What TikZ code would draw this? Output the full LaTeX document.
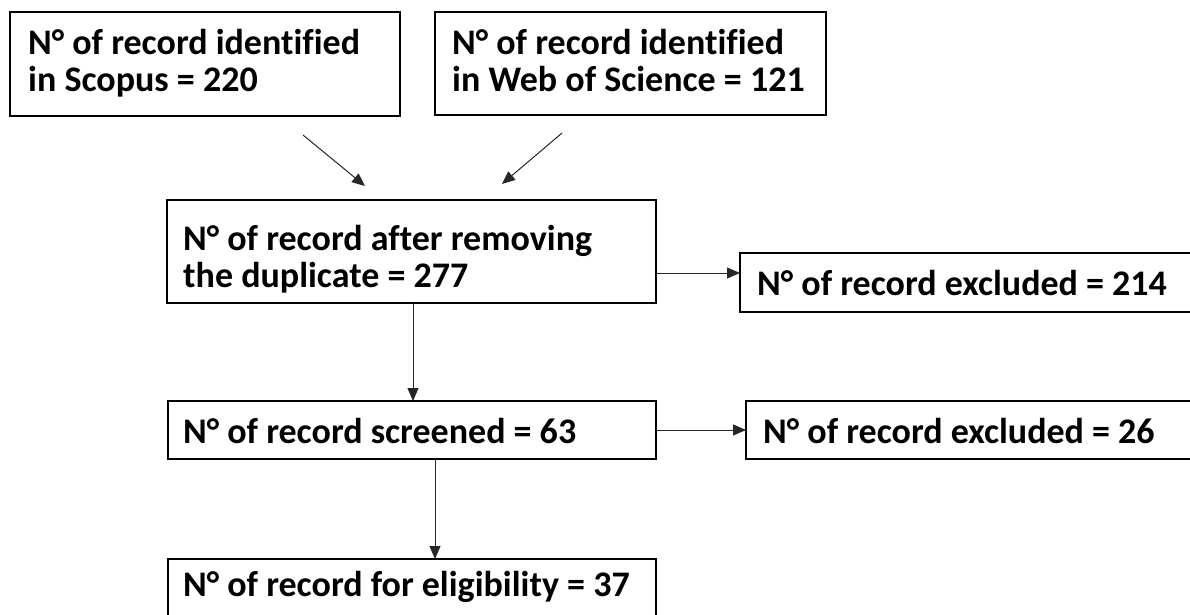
\documentclass[tikz,border=0pt]{standalone}
\usepackage{fontspec}
\setmainfont[Ligatures=NoCommon]{Carlito}
\usetikzlibrary{arrows.meta}
\begin{document}
\begin{tikzpicture}[x=1pt,y=-1pt,
  box/.style={draw=black, line width=1.5pt, rectangle, inner sep=0pt, outer sep=0pt, anchor=north west},
  txt/.style={font=\fontsize{36}{37}\selectfont\bfseries, inner sep=0pt, anchor=base west, align=left},
  arr/.style={draw=black!85, line width=1pt, -{Triangle[length=13pt,width=11pt]}}]
\useasboundingbox[fill=white] (0,0) rectangle (1190,615);
% boxes
\node[box, minimum width=390, minimum height=104] (b1) at (10,12) {};
\node[box, minimum width=391, minimum height=103] (b2) at (435,12) {};
\node[box, minimum width=489, minimum height=103] (b3) at (167,200) {};
\node[box, minimum width=480, minimum height=59] (b4) at (740,253) {};
\node[box, minimum width=488, minimum height=58] (b5) at (168,401) {};
\node[box, minimum width=480, minimum height=58] (b6) at (746,401) {};
\node[box, minimum width=488, minimum height=80] (b7) at (168,559) {};
% texts (base = last line baseline)
\node[txt] (t1) at (28,92) {N° of record identified\\in Scopus = 220};
\node[txt] (t2) at (452,92) {N° of record identified\\in Web of Science = 121};
\node[txt] (t3) at (183,287) {N° of record after removing\\the duplicate = 277};
\node[txt] (t4) at (757,295) {N° of record excluded = 214};
\node[txt] (t5) at (183,443) {N° of record screened = 63};
\node[txt] (t6) at (763,443) {N° of record excluded = 26};
\node[txt] (t7) at (183,596) {N° of record for eligibility = 37};
% connector helpers
\coordinate (s1) at (303,135);
\coordinate (e1) at (365,186);
\coordinate (s2) at (562,133);
\coordinate (e2) at (502,184);
\coordinate (x35) at (413,0);
\coordinate (x57) at (435,0);
\coordinate (y34) at (0,273);
% connectors
\draw[arr] (s1) -- (e1);
\draw[arr] (s2) -- (e2);
\draw[arr] (b3.east |- y34) -- (b4.west |- y34);
\draw[arr] (b3.south -| x35) -- (b5.north -| x35);
\draw[arr] (b5.east) -- (b6.west);
\draw[arr] (b5.south -| x57) -- (b7.north -| x57);
\end{tikzpicture}
\end{document}
